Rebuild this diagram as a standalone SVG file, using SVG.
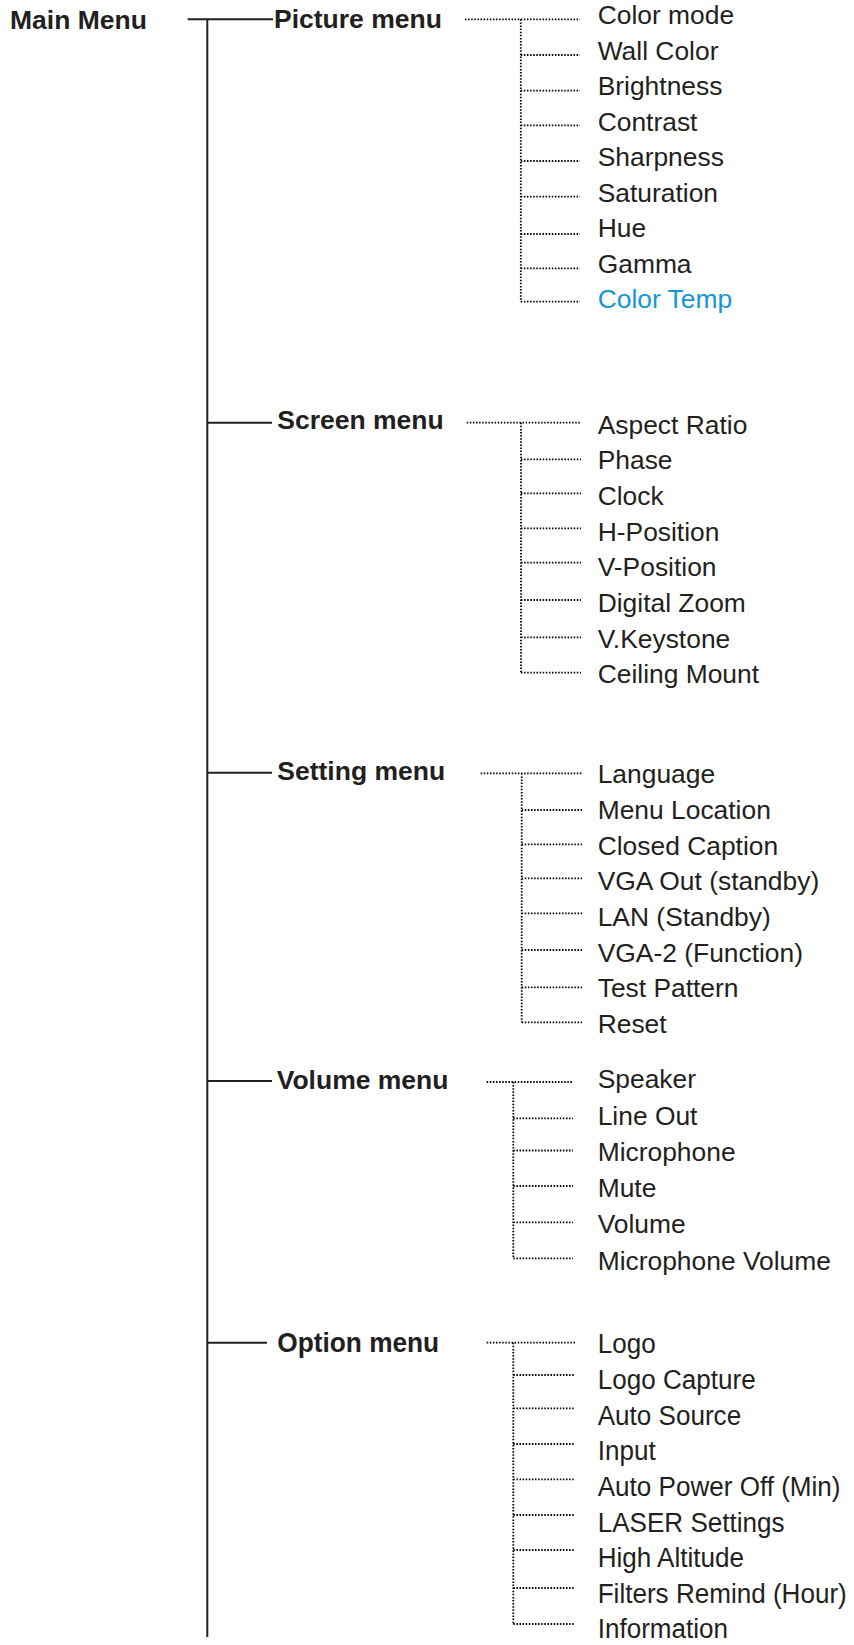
<svg xmlns="http://www.w3.org/2000/svg" width="854" height="1645" viewBox="0 0 854 1645">
<style>
.bg{fill:#ffffff}
.hd{font-family:"Liberation Sans",Arial,sans-serif;font-weight:bold;font-size:26.5px;fill:#231f20}
.it{font-family:"Liberation Sans",Arial,sans-serif;font-size:26.4px;fill:#231f20}
.blue{fill:#1596d6}
.solid{stroke:#231f20;stroke-width:2;fill:none}
.dot{stroke:#000;stroke-width:1.8;stroke-dasharray:1.5 1.6;fill:none}
</style>
<rect class="bg" x="0" y="0" width="854" height="1645"/>
<g id="connectors">
  <path class="solid" d="M187.7 19.3H273 M207.3 18.3V1637"/>
  <path class="solid" d="M207.3 422.7H272 M207.3 772.7H272 M207.3 1081H272 M207.3 1342.7H267"/>
  <path class="dot" d="M465 19.3H580 M520.8 19.3V301.7 M520.8 55H580 M520.8 90.7H580 M520.8 125.3H580 M520.8 161H580 M520.8 196.7H580 M520.8 234H580 M520.8 268.3H580 M520.8 301.7H580"/>
  <path class="dot" d="M466.7 422.7H581 M521 422.7V672.7 M521 459.3H581 M521 493.3H581 M521 528.3H581 M521 562.7H581 M521 600H581 M521 637.3H581 M521 672.7H581"/>
  <path class="dot" d="M480.7 773.3H582 M521.7 773.3V1022.3 M521.7 810H582 M521.7 844.3H582 M521.7 878.3H582 M521.7 913.3H582 M521.7 950H582 M521.7 987.3H582 M521.7 1022.3H582"/>
  <path class="dot" d="M486.7 1082H573 M513.3 1082V1258.3 M513.3 1118.3H573 M513.3 1150.5H573 M513.3 1186H573 M513.3 1222.3H573 M513.3 1258.3H573"/>
  <path class="dot" d="M486.7 1342.7H575 M513.3 1342.7V1624 M513.3 1375H575 M513.3 1408.3H575 M513.3 1444H575 M513.3 1479.3H575 M513.3 1515H575 M513.3 1550H575 M513.3 1588H575 M513.3 1624H575"/>
</g>
<g id="main-menu"><text class="hd" x="10" y="29.3">Main Menu</text></g>
<g id="picture-menu">
  <text class="hd" x="274" y="27.5">Picture menu</text>
  <text class="it" x="597.7" y="24">Color mode</text>
  <text class="it" x="597.7" y="59.5">Wall Color</text>
  <text class="it" x="597.7" y="95">Brightness</text>
  <text class="it" x="597.7" y="130.5">Contrast</text>
  <text class="it" x="597.7" y="166">Sharpness</text>
  <text class="it" x="597.7" y="201.5">Saturation</text>
  <text class="it" x="597.7" y="237">Hue</text>
  <text class="it" x="597.7" y="272.5">Gamma</text>
  <text class="it blue" x="597.7" y="308">Color Temp</text>
</g>
<g id="screen-menu">
  <text class="hd" x="277.3" y="429.3">Screen menu</text>
  <text class="it" x="597.7" y="433.5">Aspect Ratio</text>
  <text class="it" x="597.7" y="469.2">Phase</text>
  <text class="it" x="597.7" y="504.9">Clock</text>
  <text class="it" x="597.7" y="540.6">H-Position</text>
  <text class="it" x="597.7" y="576.3">V-Position</text>
  <text class="it" x="597.7" y="612">Digital Zoom</text>
  <text class="it" x="597.7" y="647.7">V.Keystone</text>
  <text class="it" x="597.7" y="683.4">Ceiling Mount</text>
</g>
<g id="setting-menu">
  <text class="hd" x="277.3" y="780">Setting menu</text>
  <text class="it" x="597.7" y="783.3">Language</text>
  <text class="it" x="597.7" y="819">Menu Location</text>
  <text class="it" x="597.7" y="854.5">Closed Caption</text>
  <text class="it" x="597.7" y="890.2">VGA Out (standby)</text>
  <text class="it" x="597.7" y="925.9">LAN (Standby)</text>
  <text class="it" x="597.7" y="961.6">VGA-2 (Function)</text>
  <text class="it" x="597.7" y="997.3">Test Pattern</text>
  <text class="it" x="597.7" y="1033">Reset</text>
</g>
<g id="volume-menu">
  <text class="hd" x="276.7" y="1088.5">Volume menu</text>
  <text class="it" x="597.7" y="1088.3">Speaker</text>
  <text class="it" x="597.7" y="1124.7">Line Out</text>
  <text class="it" x="597.7" y="1161">Microphone</text>
  <text class="it" x="597.7" y="1197">Mute</text>
  <text class="it" x="597.7" y="1233.3">Volume</text>
  <text class="it" x="597.7" y="1269.7">Microphone Volume</text>
</g>
<g id="option-menu">
  <g transform="translate(277.3 0) scale(0.938 1)">
    <text class="hd" x="0" y="1351.7" style="font-size:28px">Option menu</text>
  </g>
  <g class="it" style="font-size:28.4px" transform="translate(597.7 0) scale(0.918 1)">
  <text x="0" y="1353.3">Logo</text>
  <text x="0" y="1389.2">Logo Capture</text>
  <text x="0" y="1424.8">Auto Source</text>
  <text x="0" y="1460.4">Input</text>
  <text x="0" y="1496">Auto Power Off (Min)</text>
  <text x="0" y="1531.6">LASER Settings</text>
  <text x="0" y="1567.2">High Altitude</text>
  <text x="0" y="1602.8">Filters Remind (Hour)</text>
  <text x="0" y="1638.4">Information</text>
  </g>
</g>
</svg>
